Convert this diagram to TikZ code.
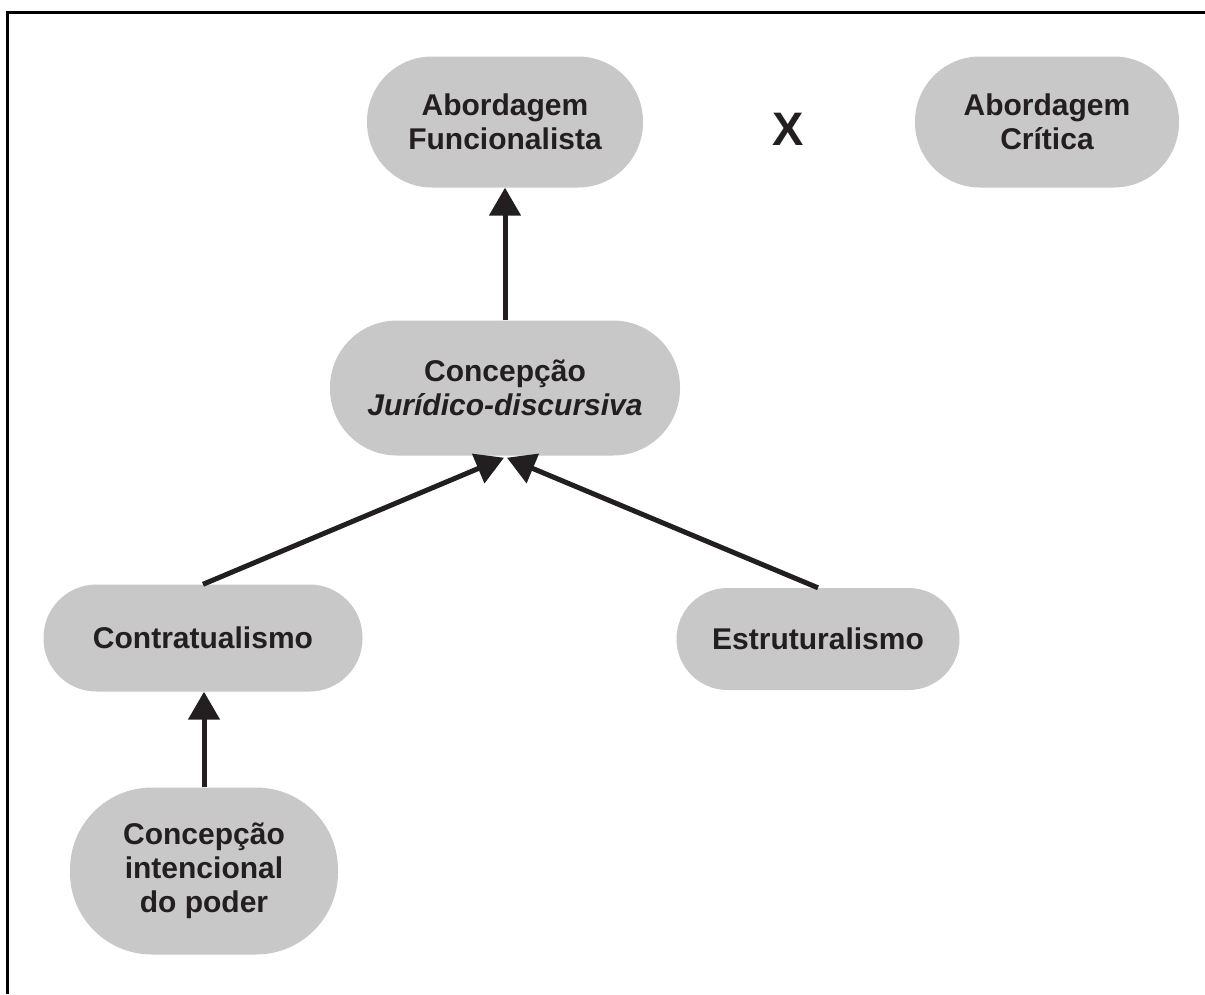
\documentclass[tikz,border=0pt]{standalone}
\usepackage{fontspec}
\setmainfont{Liberation Sans}
\usetikzlibrary{arrows.meta}
\definecolor{boxgray}{RGB}{200,200,200}
\definecolor{ink}{RGB}{35,31,32}
\begin{document}
\begin{tikzpicture}[x=1pt,y=1pt,
  pill/.style={fill=boxgray, draw=none, inner sep=0pt, align=center,
    text=ink, font=\bfseries\fontsize{30}{34}\selectfont},
  arr/.style={draw=ink, line width=5pt, -{Triangle[length=28pt,width=31pt]}}]
\useasboundingbox (0,0) rectangle (1205,-994);
\fill[white] (0,0) rectangle (1205,-994);
% frame (only top and left visible)
\draw[line width=3pt, black] (7,-994) -- (7,-12) -- (1205,-12);
% nodes
\node[pill, minimum width=276pt, minimum height=131pt, rounded corners=65pt] (F) at (505,-122) {Abordagem\\Funcionalista};
\node[pill, minimum width=264pt, minimum height=131pt, rounded corners=65pt] (C) at (1047,-122) {Abordagem\\Crítica};
\node[text=ink, font=\bfseries\fontsize{47}{50}\selectfont, inner sep=0pt] (X) at (788,-129) {X};
\node[pill, minimum width=350pt, minimum height=135pt, rounded corners=67pt] (J) at (505,-388) {Concepção\\\textit{Jurídico-discursiva}};
\node[pill, minimum width=319pt, minimum height=107pt, rounded corners=53pt] (Ct) at (203,-638) {Contratualismo};
\node[pill, minimum width=283pt, minimum height=102pt, rounded corners=51pt] (E) at (818,-639) {Estruturalismo};
\node[pill, minimum width=268pt, minimum height=167pt, rounded corners=82pt] (I) at (204,-871) {Concepção\\intencional\\do poder};
% connectors
\draw[arr] (J.north) -- (F.south);
\draw[arr] (Ct.north) -- ([xshift=-1pt,yshift=-2pt]J.south);
\draw[arr] (E.north) -- ([xshift=2pt,yshift=-2pt]J.south);
\draw[arr] (I.north) -- (I.north |- Ct.south);
\end{tikzpicture}
\end{document}
